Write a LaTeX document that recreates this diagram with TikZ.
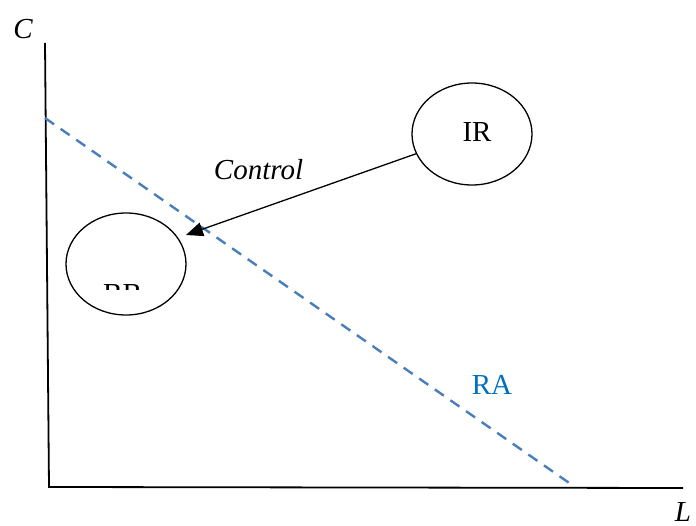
\documentclass[tikz,border=0pt]{standalone}
\usepackage{fontspec}
\setmainfont{Liberation Serif}
\usetikzlibrary{arrows.meta,shapes.geometric}
\definecolor{rablue}{HTML}{4A7EBB}
\definecolor{ratext}{HTML}{0070C0}
\begin{document}
\begin{tikzpicture}[x=1pt,y=-1pt,
  axis/.style={line width=1.8pt,black},
  ell/.style={draw,ellipse,line width=1.3pt,minimum width=120pt,minimum height=102pt,inner sep=0pt},
  lbl/.style={font=\fontsize{29}{34}\selectfont,anchor=base,inner sep=0pt},
  ilbl/.style={lbl,font=\fontsize{29}{34}\selectfont\itshape},
  raline/.style={rablue,line width=2.4pt,dash pattern=on 11pt off 8pt},
  ctrl/.style={line width=1.3pt,-{Triangle[length=17pt,width=14pt]}}]
\useasboundingbox (0,0) rectangle (696,526);
% axes
\coordinate (Ytop) at (45,43);
\coordinate (O) at (49,487);
\coordinate (Xend) at (683,488);
\draw[axis] (Ytop) -- (O) -- (Xend);
\node[ilbl] (Clab) at (23,39) {C};
\node[ilbl] (Llab) at (683,521) {L};
% RA line
\coordinate (RAa) at (45,118);
\coordinate (RAb) at (575,487);
\draw[raline] (RAa) -- (RAb);
\node[lbl,text=ratext] (RA) at (492,395) {RA};
% ellipses
\node[ell] (IR) at (472,134) {};
\node[lbl] (IRt) at (477,142) {IR};
\node[ell] (BB) at (126,264) {};
\begin{scope}
\clip (60,200) rectangle (200,290);
\node[lbl] (BBt) at (122.5,304) {BB};
\end{scope}
% control arrow
\coordinate (tip) at (186,235);
\draw[ctrl] (IR) -- (tip);
\node[ilbl] (Ctl) at (258.5,180) {Control};
\end{tikzpicture}
\end{document}
